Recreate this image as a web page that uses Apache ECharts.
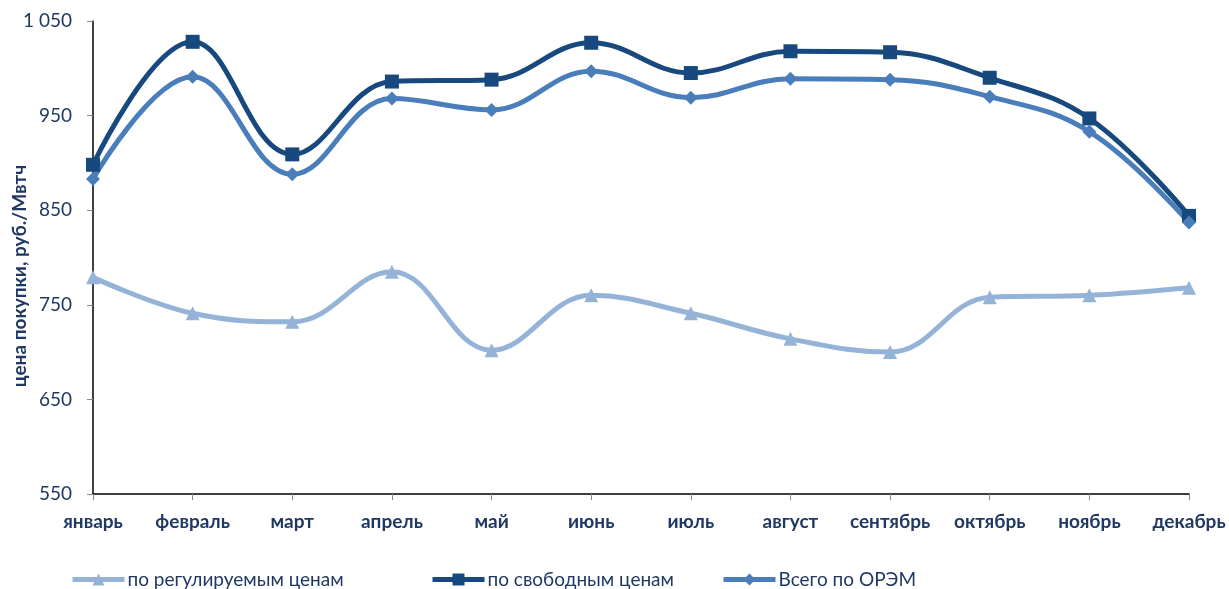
<!DOCTYPE html>
<html><head><meta charset="utf-8">
<script src="https://cdn.jsdelivr.net/npm/echarts@6/dist/echarts.min.js"></script>
<style>html,body{margin:0;padding:0;background:#fff}#c{width:1229px;height:589px}</style>
</head><body><div id="c"></div>
<script>
const months = ['январь','февраль','март','апрель','май','июнь','июль','август','сентябрь','октябрь','ноябрь','декабрь'];
const regulated = [779, 741, 732, 785, 702, 760, 741, 714, 700, 758, 760, 768];
const free = [898, 1028, 909, 986, 988, 1027, 995, 1018, 1017, 990, 947, 844];
const total = [883, 991, 888, 968, 956, 997, 969, 989, 988, 970, 933, 837];
const yTicks = {min: 550, max: 1050, interval: 100};
const yTitle = 'цена покупки, руб./Мвтч';

const txt = '#1F3864';
const font = 'Lato, "Open Sans", sans-serif';
function fmt(v){ v = String(v); return v.length > 3 ? v.slice(0, v.length-3) + ' ' + v.slice(-3) : v; }
function leg(name, left){
  return {data:[name], left:left, top:565, itemWidth:52, itemHeight:15, itemGap:0,
    lineStyle:{width:5},
    textStyle:{color:txt, fontSize:19, fontFamily:font, padding:[0,0,0,-2]}};
}
const chart = echarts.init(document.getElementById('c'));
chart.setOption({
  animation:false,
  grid:{left:93, right:40, top:21, bottom:95, containLabel:false, outerBoundsMode:'none'},
  graphic:[{type:'text', x:20, y:276, rotation:Math.PI/2,
    style:{text:yTitle, fill:txt, font:'bold 19px ' + font, align:'center', verticalAlign:'middle'}}],
  legend:[leg('по регулируемым ценам', 65), leg('по свободным ценам', 425), leg('Всего по ОРЭМ', 716)],
  xAxis:{type:'category', data:months, boundaryGap:false,
    axisLine:{lineStyle:{color:'#000', width:1.5}},
    axisTick:{show:true, length:6, lineStyle:{color:'#888'}},
    axisLabel:{color:txt, fontWeight:'bold', fontSize:19, fontFamily:font, margin:18, interval:0}},
  yAxis:{type:'value', min:yTicks.min, max:yTicks.max, interval:yTicks.interval,
    splitLine:{show:false},
    axisLine:{show:true, lineStyle:{color:'#000', width:1.5}},
    axisTick:{show:true, length:6, lineStyle:{color:'#888'}},
    axisLabel:{color:txt, fontSize:19, fontFamily:font, margin:21, formatter:fmt}},
  series:[
    {name:'по регулируемым ценам', type:'line', data:regulated, smooth:0.4, symbol:'triangle', symbolSize:14,
      lineStyle:{color:'#95B3D7', width:5}, itemStyle:{color:'#95B3D7'}},
    {name:'по свободным ценам', type:'line', data:free, smooth:0.4, symbol:'rect', symbolSize:14,
      lineStyle:{color:'#17497E', width:5}, itemStyle:{color:'#17497E'}},
    {name:'Всего по ОРЭМ', type:'line', data:total, smooth:0.4, symbol:'diamond', symbolSize:14,
      lineStyle:{color:'#4A7EBB', width:5}, itemStyle:{color:'#4A7EBB'}}
  ]
});
</script></body></html>
